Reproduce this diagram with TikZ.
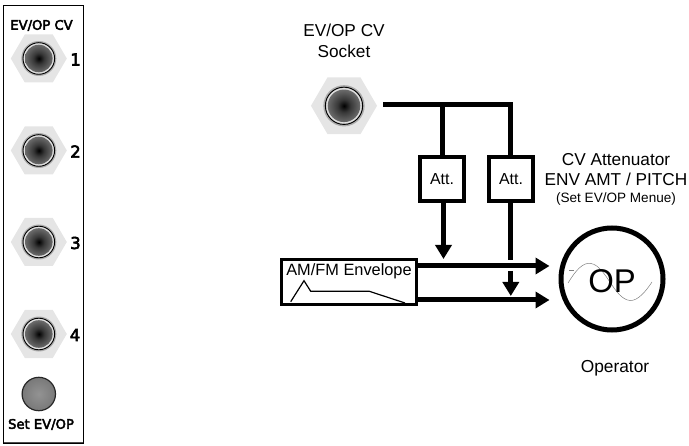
\documentclass[tikz,border=0pt]{standalone}
\usepackage{fontspec}
\setmainfont{Liberation Sans}
\newfontfamily\panelfont[FakeBold=3.5]{DejaVu Sans}
\usetikzlibrary{arrows.meta}
\pgfdeclareradialshading{jackshade}{\pgfpoint{0bp}{0bp}}{%
  color(0bp)=(black); color(10bp)=(black!78); color(25bp)=(black!58); color(50bp)=(black!58)}
\pgfdeclareradialshading{hexshade}{\pgfpoint{0bp}{0bp}}{%
  color(0bp)=(black!30); color(16bp)=(black!22); color(34bp)=(black!8); color(50bp)=(black!8)}
\tikzset{
  wire/.style={draw=black,line width=5bp},
  awire/.style={wire,-{Triangle[length=14bp,width=16bp]}},
  bbox/.style={draw=black,line width=3.4bp,fill=white,inner sep=0pt,minimum width=44bp,minimum height=44bp},
  lab/.style={inner sep=0pt,align=center,font=\fontsize{17.3}{21}\selectfont},
  plab/.style={inner sep=0pt,font=\panelfont\fontsize{13.2}{14}\selectfont},
  num/.style={inner sep=0pt,font=\panelfont\fontsize{16.5}{17}\selectfont},
}
% jack: position, scale
\newcommand{\jackdraw}[3]{%
  \begin{scope}[shift={(#1,#2)},scale=#3]
    \fill[gray!20] (-28,0)--(-14,-24)--(14,-24)--(28,0)--(14,24)--(-14,24)--cycle;
    \fill[gray!65] (0,0) circle (17.5);
    \draw[black,line width=0.9bp] (0,0) circle (15.8);
    \fill[white!75!gray] (0,0) circle (15);
    \shade[shading=jackshade] (0,0) circle (13.8);
  \end{scope}}
\begin{document}
\begin{tikzpicture}[x=1bp,y=-1bp]
\useasboundingbox (0,0) rectangle (689,446);
% panel
\draw[black!70,line width=1.6bp] (3.7,443) -- (83.6,443);
\node[draw=black,line width=0.9bp,fill=none,minimum width=80bp,minimum height=438bp,inner sep=0pt] (panel) at (43.5,224) {};
\node[plab] (t1) at (41.5,25.5) {EV/OP CV};
\jackdraw{38.8}{58.5}{1}
\jackdraw{38.8}{150.5}{1}
\jackdraw{38.8}{242}{1}
\jackdraw{38.8}{334}{1}
\node[num] (n1) at (75.5,59.5) {1};
\node[num] (n2) at (75.5,151.5) {2};
\node[num] (n3) at (75.5,243) {3};
\node[num] (n4) at (75,335) {4};
\shade[inner color=gray!85,outer color=gray!95!black] (38.8,394) circle (16.5);
\draw[black!85,line width=1.2bp] (38.8,394) circle (16.7);
\node[plab] (t2) at (41,424.5) {Set EV/OP};
% socket
\jackdraw{344}{105.8}{1.18}
\node[lab] (s) at (344,40.5) {EV/OP CV\\Socket};
\coordinate (start) at (383,105);
\coordinate (cn) at (442.3,105);
\coordinate (cr) at (510.8,105);
\node[bbox] (a1) at (442,179.2) {\fontsize{16}{18}\selectfont Att.};
\node[bbox] (a2) at (511,179.2) {\fontsize{16}{18}\selectfont Att.};
\node[bbox,minimum width=134.5bp,minimum height=44.5bp,line width=3bp] (env) at (348.8,282.2) {};
\node[inner sep=0pt,font=\fontsize{16.4}{18}\selectfont] (envt) at (349,271.5) {AM/FM Envelope};
\draw[black,line width=1.2bp] (290.7,301.7) -- (304,280.7) -- (310.7,291.3) -- (369.3,291.3) -- (405,303);
\draw[wire] (start) -- (cr) -- (cr |- a2.north);
\draw[wire] (cn) -- (cn |- a1.north);
\coordinate (h1) at (443.5,202);
\draw[awire] (h1) -- (443.5,259);
% operator
\node[circle,draw=black,line width=5bp,minimum size=102bp,inner sep=0pt] (op) at (612,279) {};
\coordinate (e1t) at (env.east |- 0,266);
\coordinate (e2t) at (env.east |- 0,300);
\coordinate (o1) at (549.5,266);
\coordinate (o2) at (549.5,300);
\draw[awire] (e1t) -- (o1);
\draw[awire] (e2t) -- (o2);
\coordinate (g) at (510.8,260);
\draw[wire] (a2.south -| g) -- (g);
\coordinate (g2) at (510.8,271);
\draw[awire] (g2) -- (510.8,296);
\draw[gray,line width=0.5bp] (568,283) .. controls (576,270) and (583,262) .. (591,263.5) .. controls (606,266) and (614,299) .. (630,300.5) .. controls (638,301) and (646,291) .. (652,282);
\draw[gray,line width=0.7bp] (569,270.5) -- (574,270.5);
\node[inner sep=0pt,font=\fontsize{33}{35}\selectfont] (optext) at (612,281) {OP};
% labels
\node[lab] (c1) at (616,160) {CV Attenuator};
\node[lab] (c2) at (616,179.5) {ENV AMT / PITCH};
\node[inner sep=0pt,font=\fontsize{13.6}{15}\selectfont] (c3) at (616,198.5) {(Set EV/OP Menue)};
\node[inner sep=0pt,font=\fontsize{17.4}{19}\selectfont] (c4) at (615,368.5) {Operator};
\end{tikzpicture}
\end{document}
